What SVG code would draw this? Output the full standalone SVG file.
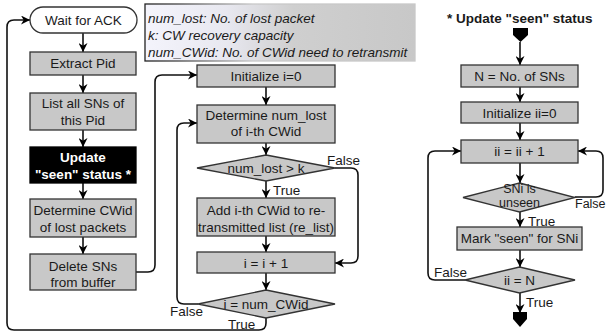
<svg xmlns="http://www.w3.org/2000/svg" width="608" height="334" viewBox="0 0 608 334">
<defs>
<marker id="ah" viewBox="0 0 10 10" markerWidth="9" markerHeight="9" markerUnits="userSpaceOnUse" refX="10" refY="5" orient="auto">
<path d="M0,0 L10,5 L0,10 L3,5 z" fill="#000"/>
</marker>
<linearGradient id="nf" x1="0" y1="0" x2="1" y2="0">
<stop offset="0" stop-color="#f4f4fc"/>
<stop offset="0.3" stop-color="#e8e8f0"/>
<stop offset="0.55" stop-color="#cfcfcf"/>
<stop offset="1" stop-color="#c8c8c8"/>
</linearGradient>
<linearGradient id="ns" x1="0" y1="0" x2="1" y2="0">
<stop offset="0" stop-color="#222"/>
<stop offset="0.12" stop-color="#444"/>
<stop offset="0.4" stop-color="#c8c8c8"/>
<stop offset="1" stop-color="#c8c8c8"/>
</linearGradient>
</defs>
<style>
text{font-family:"Liberation Sans",Arial,sans-serif;font-size:13.5px;fill:#1a1a1a}
.c{text-anchor:middle}
.b{font-weight:bold}
.w{fill:#fff}
.i{font-style:italic}
.s{font-size:12.5px}
.box{fill:#c8c8c8;stroke:#333;stroke-width:1.3}
.blk{fill:#000;stroke:#000;stroke-width:1.3}
.term{fill:#fff;stroke:#333;stroke-width:1.3}
.ln{fill:none;stroke:#111;stroke-width:1.6;marker-end:url(#ah)}
</style>

<g id="notes">
<rect x="145" y="4" width="270" height="57" fill="url(#nf)" stroke="url(#ns)" stroke-width="1.3"/>
<text class="i" x="148" y="23">num_lost: No. of lost packet</text>
<text class="i" x="148" y="40">k: CW recovery capacity</text>
<text class="i" x="148" y="57">num_CWid: No. of CWid need to retransmit</text>
</g>

<g id="connectors">
<line class="ln" x1="83" y1="33" x2="83" y2="52"/>
<line class="ln" x1="83" y1="75" x2="83" y2="93"/>
<line class="ln" x1="83" y1="130" x2="83" y2="147"/>
<line class="ln" x1="83" y1="183" x2="83" y2="199"/>
<line class="ln" x1="83" y1="237" x2="83" y2="254"/>
<line class="ln" x1="266" y1="87" x2="266" y2="105"/>
<line class="ln" x1="266" y1="143" x2="266" y2="155"/>
<line class="ln" x1="266" y1="181" x2="266" y2="198"/>
<line class="ln" x1="266" y1="236" x2="266" y2="252"/>
<line class="ln" x1="266" y1="273" x2="266" y2="290"/>
<path class="ln" d="M136,272 H148 Q155,272 155,265 V82 Q155,75 162,75 H197"/>
<path class="ln" d="M198,304 H184 Q177,304 177,297 V130 Q177,123 184,123 H197"/>
<path class="ln" d="M335,168 H351 Q358,168 358,175 V256 Q358,263 351,263 H335"/>
<path class="ln" d="M266,318 V323 Q266,330 259,330 H14 Q7,330 7,323 V27 Q7,20 14,20 H30"/>
<line class="ln" x1="520" y1="42" x2="520" y2="65"/>
<line class="ln" x1="520" y1="87" x2="520" y2="102"/>
<line class="ln" x1="520" y1="123" x2="520" y2="140"/>
<line class="ln" x1="520" y1="163" x2="520" y2="183"/>
<line class="ln" x1="520" y1="212" x2="520" y2="227"/>
<line class="ln" x1="520" y1="250" x2="520" y2="267"/>
<line class="ln" x1="520" y1="293" x2="520" y2="313"/>
<path class="ln" d="M575,197 H596 Q603,197 603,190 V158 Q603,151 596,151 H578"/>
<path class="ln" d="M465,280 H435 Q428,280 428,273 V158 Q428,151 435,151 H461"/>
</g>

<g id="wait">
<rect class="term" x="30" y="7" width="107" height="26" rx="13"/>
<text class="c" x="83.5" y="25">Wait for ACK</text>
</g>
<g id="extract">
<rect class="box" x="30" y="52" width="106" height="23"/>
<text class="c" x="83" y="68">Extract Pid</text>
</g>
<g id="list">
<rect class="box" x="30" y="93" width="106" height="37"/>
<text class="c" x="83" y="108">List all SNs of</text>
<text class="c" x="83" y="125">this Pid</text>
</g>
<g id="update">
<rect class="blk" x="30" y="147" width="106" height="36"/>
<text class="c b w" x="83" y="162">Update</text>
<text class="c b w" x="83" y="179">"seen" status *</text>
</g>
<g id="detcwid">
<rect class="box" x="30" y="199" width="106" height="38"/>
<text class="c" x="83" y="215">Determine CWid</text>
<text class="c" x="83" y="232">of lost packets</text>
</g>
<g id="delete">
<rect class="box" x="30" y="254" width="106" height="36"/>
<text class="c" x="83" y="271">Delete SNs</text>
<text class="c" x="83" y="287">from buffer</text>
</g>

<g id="init">
<rect class="box" x="197" y="65" width="138" height="22"/>
<text class="c" x="266" y="81">Initialize i=0</text>
</g>
<g id="detlost">
<rect class="box" x="197" y="105" width="138" height="38"/>
<text class="c" x="266" y="120">Determine num_lost</text>
<text class="c" x="266" y="136">of i-th CWid</text>
</g>
<g id="cond1">
<polygon class="box" points="266,155 335,168 266,181 197,168"/>
<text class="c" x="266" y="173">num_lost &gt; k</text>
<text x="327" y="165">False</text>
<text x="273" y="195">True</text>
</g>
<g id="add">
<rect class="box" x="197" y="198" width="138" height="38"/>
<text class="c" x="266" y="215">Add i-th CWid to re-</text>
<text class="c" x="266" y="232">transmitted list (re_list)</text>
</g>
<g id="incr">
<rect class="box" x="197" y="252" width="138" height="21"/>
<text class="c" x="266" y="268">i = i + 1</text>
</g>
<g id="cond2">
<polygon class="box" points="266,290 335,304 266,318 198,304"/>
<text class="c" x="266" y="309">i = num_CWid</text>
<text x="170" y="316">False</text>
<text x="228" y="329">True</text>
</g>

<g id="title">
<text class="b" x="447" y="23">* Update "seen" status</text>
</g>
<g id="start">
<path d="M513,28 H528 V35 L520.5,42 L513,35 Z" fill="#000"/>
</g>
<g id="nbox">
<rect class="box" x="461" y="65" width="117" height="22"/>
<text class="c" x="519.5" y="81">N = No. of SNs</text>
</g>
<g id="initii">
<rect class="box" x="461" y="102" width="117" height="21"/>
<text class="c" x="519.5" y="117.5">Initialize ii=0</text>
</g>
<g id="incii">
<rect class="box" x="461" y="140" width="117" height="23"/>
<text class="c" x="519.5" y="156">ii = ii + 1</text>
</g>
<g id="cond3">
<polygon class="box" points="519.5,183 575,197.5 519.5,212 463,197.5"/>
<text class="c s" x="519.5" y="193">SNi is</text>
<text class="c s" x="519.5" y="206.5">unseen</text>
<text class="s" x="575" y="208">False</text>
<text x="528" y="226">True</text>
</g>
<g id="mark">
<rect class="box" x="457" y="227" width="125" height="23"/>
<text class="c" x="519.5" y="243">Mark "seen" for SNi</text>
</g>
<g id="cond4">
<polygon class="box" points="519.5,267 575,280 519.5,293 465,280"/>
<text class="c" x="519.5" y="285">ii = N</text>
<text x="434" y="277">False</text>
<text x="526" y="307">True</text>
</g>
<g id="end">
<path d="M513,312 H527 V319 L520,327 L513,319 Z" fill="#000"/>
</g>
</svg>
